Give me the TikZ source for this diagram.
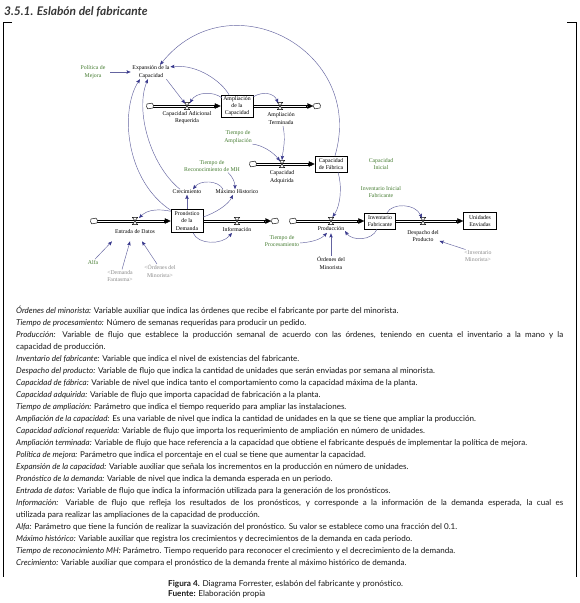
\documentclass[tikz,border=0pt]{standalone}
\usepackage{fontspec}
\setmainfont{Lato}
\newfontfamily\dfam{Liberation Serif}
\usetikzlibrary{arrows.meta}
\definecolor{cline}{RGB}{100,100,160}
\definecolor{ctip}{RGB}{55,55,140}
\definecolor{pgreen}{RGB}{70,125,50}
\definecolor{shgray}{RGB}{140,140,140}
\definecolor{txtc}{RGB}{25,25,25}
\definecolor{titc}{RGB}{55,55,55}
\newcommand{\dsize}{\dfam\fontsize{5.8}{7.4}\selectfont}
\newcommand{\bsize}{\fontsize{8.05}{9}\selectfont}
\tikzset{
  lbl/.style={font=\dsize, align=center, inner sep=0.6pt, text=black},
  parm/.style={lbl, text=pgreen},
  shd/.style={lbl, text=shgray},
  stock/.style={lbl, draw, line width=0.5pt, fill=white, inner sep=0.5pt},
  cloudn/.style={circle, minimum size=7pt, inner sep=0pt},
  conn/.style={draw=cline, line width=0.45pt, -{Stealth[length=4.2pt,width=3.4pt,inset=0.8pt,color=ctip]}},
  pipeedge/.style={draw=black, line width=0.6pt},
  pipetip/.style={draw=black, line width=0.4pt, -{Triangle[length=6pt,width=5.5pt]}},
  bodyl/.style={anchor=base west, inner sep=0pt, font=\bsize, text=txtc},
  frame/.style={draw=black, line width=0.7pt},
  cloudp/.pic={\draw[line width=0.45pt, fill=white] (-3.4,0.8) .. controls (-4.6,-1.4) and (-2.2,-3.4) .. (-0.6,-2.4) .. controls (0.6,-3.6) and (3.6,-3.0) .. (3.4,-0.8) .. controls (4.6,1.2) and (2.2,3.4) .. (0.4,2.4) .. controls (-0.8,3.6) and (-3.8,3.0) .. (-3.4,0.8) -- cycle;},
  valvep/.pic={\draw[line width=0.45pt, fill=white] (-2.6,-3.6) -- (2.6,-3.6) -- (-2.6,3.6) -- (2.6,3.6) -- cycle;}
}
\begin{document}
\begin{tikzpicture}[x=1pt,y=-1pt]
\useasboundingbox (0,0) rectangle (579,603);
\fill[white] (0,0) rectangle (579,603);

% title and frame
\node[anchor=base west, inner sep=0, font=\fontsize{11.9}{13}\selectfont\bfseries\itshape, text=titc] (title) at (4,15) {3.5.1. Eslabón del fabricante};
\draw[frame] (12,22) -- (3,22) -- (3,577);
\draw[frame] (567,22) -- (576,22) -- (576,577);

% ---------- diagram nodes ----------
\node[parm] (polit) at (93,72) {Política de\\Mejora};
\node[lbl] (expan) at (151,72) {Expansión de la\\Capacidad};
\node[stock, minimum width=32pt, minimum height=22pt] (ampcap) at (237,106) {Ampliación\\de la\\Capacidad};
\node[cloudn] (c1) at (150,106) {};
\node[cloudn] (c2) at (317,106) {};
\coordinate (v1) at (187,106);
\coordinate (v2) at (280,106);
\node[lbl] (carl) at (187,117.5) {Capacidad Adicional\\Requerida};
\node[lbl] (amtl) at (281,118.5) {Ampliación\\Terminada};
\node[parm] (tamp) at (238,137) {Tiempo de\\Ampliación};
\node[cloudn] (c3) at (253,164) {};
\coordinate (v3) at (282,164);
\node[lbl] (capadl) at (282,177) {Capacidad\\Adquirida};
\node[stock, minimum width=32pt, minimum height=16pt] (capfab) at (331,164) {Capacidad\\de Fábrica};
\node[parm] (capini) at (381,164) {Capacidad\\Inicial};
\node[parm] (invini) at (381,192) {Inventario Inicial\\Fabricante};
\node[parm] (trmh) at (212,166) {Tiempo de\\Reconocimiento de MH};
\node[lbl] (crec) at (187,192) {Crecimiento};
\node[lbl] (maxh) at (237,192) {Máximo Historico};
\node[stock, minimum width=32pt, minimum height=23pt] (prono) at (187,221) {Pronóstico\\de la\\Demanda};
\node[cloudn] (c4) at (94,221) {};
\coordinate (v4) at (135,221);
\node[lbl] (entl) at (135,232) {Entrada de Datos};
\coordinate (v5) at (237,221);
\node[lbl] (infol) at (237,229) {Información};
\node[cloudn] (c5) at (275,221) {};
\node[cloudn] (c6) at (293,221) {};
\coordinate (v6) at (331,221);
\node[lbl] (prodl) at (331,229) {Producción};
\node[stock, minimum width=31pt, minimum height=16pt] (inv) at (380,221) {Inventario\\Fabricante};
\coordinate (v7) at (423,221);
\node[lbl] (despl) at (423,236) {Despacho del\\Producto};
\node[stock, minimum width=33pt, minimum height=17pt] (unid) at (480,221) {Unidades\\Enviadas};
\node[parm] (tproc) at (282,241) {Tiempo de\\Procesamiento};
\node[lbl] (ordm) at (331,263) {Órdenes del\\Minorista};
\node[shd] (invmin) at (478,256) {<Inventario\\Minorista>};
\node[parm] (alfa) at (93,262) {Alfa};
\node[shd] (demf) at (120,276) {<Demanda\\Fantasma>};
\node[shd] (ordmin) at (160,271) {<Órdenes del\\Minorista>};

% ---------- pipes (two parallel edges + arrow tip) ----------
\draw[pipeedge] ([yshift=1.1pt]c1.center) -- ([yshift=1.1pt,xshift=-5pt]ampcap.west)
                ([yshift=-1.1pt]c1.center) -- ([yshift=-1.1pt,xshift=-5pt]ampcap.west);
\draw[pipetip] ([xshift=-7pt]ampcap.west) -- (ampcap.west);
\draw[pipeedge] ([yshift=1.1pt]ampcap.east) -- ([yshift=1.1pt,xshift=-5pt]c2.west)
                ([yshift=-1.1pt]ampcap.east) -- ([yshift=-1.1pt,xshift=-5pt]c2.west);
\draw[pipetip] ([xshift=-7pt]c2.west) -- (c2.west);
\draw[pipeedge] ([yshift=1.1pt]c3.center) -- ([yshift=1.1pt,xshift=-5pt]capfab.west)
                ([yshift=-1.1pt]c3.center) -- ([yshift=-1.1pt,xshift=-5pt]capfab.west);
\draw[pipetip] ([xshift=-7pt]capfab.west) -- (capfab.west);
\draw[pipeedge] ([yshift=1.1pt]c4.center) -- ([yshift=1.1pt,xshift=-5pt]prono.west)
                ([yshift=-1.1pt]c4.center) -- ([yshift=-1.1pt,xshift=-5pt]prono.west);
\draw[pipetip] ([xshift=-7pt]prono.west) -- (prono.west);
\draw[pipeedge] ([yshift=1.1pt]prono.east) -- ([yshift=1.1pt,xshift=-5pt]c5.west)
                ([yshift=-1.1pt]prono.east) -- ([yshift=-1.1pt,xshift=-5pt]c5.west);
\draw[pipetip] ([xshift=-7pt]c5.west) -- (c5.west);
\draw[pipeedge] ([yshift=1.1pt]c6.center) -- ([yshift=1.1pt,xshift=-5pt]inv.west)
                ([yshift=-1.1pt]c6.center) -- ([yshift=-1.1pt,xshift=-5pt]inv.west);
\draw[pipetip] ([xshift=-7pt]inv.west) -- (inv.west);
\draw[pipeedge] ([yshift=1.1pt]inv.east) -- ([yshift=1.1pt,xshift=-5pt]unid.west)
                ([yshift=-1.1pt]inv.east) -- ([yshift=-1.1pt,xshift=-5pt]unid.west);
\draw[pipetip] ([xshift=-7pt]unid.west) -- (unid.west);
\foreach \cc in {c1,c2,c3,c4,c5,c6} \pic at (\cc) {cloudp};
\foreach \vv in {v1,v2,v3,v4,v5,v6,v7} \pic at (\vv) {valvep};

% ---------- connectors ----------
\draw[conn, shorten <=4pt, shorten >=1pt] (polit) -- (expan);
\draw[conn] ([xshift=4pt]capfab.north) .. controls (366,50.5) and (230,-22) .. ([xshift=9pt]expan.north);
\draw[conn] ([xshift=-8pt]ampcap.north) .. controls (222,82) and (198,64) .. ([yshift=-2pt]expan.north east);
\draw[conn, shorten >=3pt] ([xshift=-4pt]expan.south east) -- (v1);
\draw[conn] ([xshift=1pt,yshift=-3pt]ampcap.north west) .. controls (213,91) and (196,92) .. ([xshift=3pt,yshift=3pt]v1);
\draw[conn] ([yshift=-2pt]ampcap.north east) .. controls (263,91) and (274,93) .. ([xshift=-2pt,yshift=3pt]v2);
\draw[conn] ([xshift=2pt,yshift=-1pt]amtl.south) .. controls (286,140) and (283,150) .. ([yshift=4pt]v3);
\draw[conn] (tamp.south east) .. controls (262,145) and (273,152) .. ([xshift=-2pt,yshift=3pt]v3);
\draw[conn] ([xshift=7pt]capfab.south) .. controls (342,185) and (341,205) .. ([xshift=1.5pt,yshift=4pt]v6);
\draw[conn] ([xshift=7pt]inv.north) .. controls (392,203) and (415,203) .. ([xshift=-1pt,yshift=3pt]v7);
\draw[conn] ([xshift=-3pt]inv.south) .. controls (372,241) and (352,241) .. ([yshift=-2pt]prodl.east);
\draw[conn] ([yshift=-2pt]tproc.east) .. controls (315,242) and (322,238) .. ([xshift=-4pt,yshift=-1pt]prodl.south);
\draw[conn, shorten >=1.5pt] (ordm.north) -- (prodl.south);
\draw[conn] ([xshift=2pt]invmin.north west) -- ([yshift=-5pt]despl.east);
\draw[conn] ([xshift=16pt]trmh.south) .. controls (232,176) and (235,182) .. ([xshift=-2pt]maxh.north);
\draw[conn] ([xshift=-14pt]maxh.north) .. controls (218,180) and (200,180) .. ([xshift=6pt]crec.north);
\draw[conn] (prono.north) -- (crec.south);
\draw[conn] ([yshift=4pt]prono.east) .. controls (215,213) and (228,205) .. ([xshift=-4pt]maxh.south);
\draw[conn] ([yshift=-2pt]prono.north west) .. controls (160,209) and (148,209) .. ([xshift=4pt,yshift=3pt]v4);
\draw[conn] ([xshift=6pt]prono.south) .. controls (198,245) and (222,245) .. ([xshift=-5pt,yshift=-1pt]infol.south);
\draw[conn] ([yshift=-1pt]prono.north west) .. controls (125,180) and (120,110) .. ([xshift=-11pt]expan.south);
\draw[conn] ([xshift=-7pt]crec.north) .. controls (150,165) and (135,110) .. ([xshift=-3pt]expan.south);
\draw[conn] ([xshift=2pt]alfa.north) -- ([xshift=-23pt,yshift=-6.5pt]entl.south);
\draw[conn] ([xshift=2pt]demf.north) -- ([xshift=-5pt,yshift=-6.5pt]entl.south);
\draw[conn] ([xshift=-3pt]ordmin.north) -- ([xshift=7pt,yshift=-6.5pt]entl.south);

% ---------- body text ----------
\node[bodyl] (t0) at (16,313.5) {\textit{Órdenes del minorista:} Variable auxiliar que indica las órdenes que recibe el fabricante por parte del minorista.};
\node[bodyl] (t1) at (16,325.5) {\textit{Tiempo de procesamiento:} Número de semanas requeridas para producir un pedido.};
\node[bodyl] (t2) at (16,337.5) {\makebox[547pt][s]{\textit{Producción:} Variable de flujo que establece la producción semanal de acuerdo con las órdenes, teniendo en cuenta el inventario a la mano y la}};
\node[bodyl] (t3) at (16,349.5) {capacidad de producción.};
\node[bodyl] (t4) at (16,361.5) {\textit{Inventario del fabricante:} Variable que indica el nivel de existencias del fabricante.};
\node[bodyl] (t5) at (16,373.5) {\textit{Despacho del producto:} Variable de flujo que indica la cantidad de unidades que serán enviadas por semana al minorista.};
\node[bodyl] (t6) at (16,385.5) {\textit{Capacidad de fábrica:} Variable de nivel que indica tanto el comportamiento como la capacidad máxima de la planta.};
\node[bodyl] (t7) at (16,397.5) {\textit{Capacidad adquirida:} Variable de flujo que importa capacidad de fabricación a la planta.};
\node[bodyl] (t8) at (16,409.5) {\textit{Tiempo de ampliación:} Parámetro que indica el tiempo requerido para ampliar las instalaciones.};
\node[bodyl] (t9) at (16,421.5) {\textit{Ampliación de la capacidad:} Es una variable de nivel que indica la cantidad de unidades en la que se tiene que ampliar la producción.};
\node[bodyl] (t10) at (16,433.5) {\textit{Capacidad adicional requerida:} Variable de flujo que importa los requerimiento de ampliación en número de unidades.};
\node[bodyl] (t11) at (16,445.5) {\textit{Ampliación terminada:} Variable de flujo que hace referencia a la capacidad que obtiene el fabricante después de implementar la política de mejora.};
\node[bodyl] (t12) at (16,457.5) {\textit{Política de mejora:} Parámetro que indica el porcentaje en el cual se tiene que aumentar la capacidad.};
\node[bodyl] (t13) at (16,469.5) {\textit{Expansión de la capacidad:} Variable auxiliar que señala los incrementos en la producción en número de unidades.};
\node[bodyl] (t14) at (16,481.5) {\textit{Pronóstico de la demanda:} Variable de nivel que indica la demanda esperada en un periodo.};
\node[bodyl] (t15) at (16,493.5) {\textit{Entrada de datos:} Variable de flujo que indica la información utilizada para la generación de los pronósticos.};
\node[bodyl] (t16) at (16,505.5) {\makebox[547pt][s]{\textit{Información:} Variable de flujo que refleja los resultados de los pronósticos, y corresponde a la información de la demanda esperada, la cual es}};
\node[bodyl] (t17) at (16,517.5) {utilizada para realizar las ampliaciones de la capacidad de producción.};
\node[bodyl] (t18) at (16,529.5) {\textit{Alfa:} Parámetro que tiene la función de realizar la suavización del pronóstico. Su valor se establece como una fracción del 0.1.};
\node[bodyl] (t19) at (16,541.5) {\textit{Máximo histórico:} Variable auxiliar que registra los crecimientos y decrecimientos de la demanda en cada periodo.};
\node[bodyl] (t20) at (16,553.5) {\textit{Tiempo de reconocimiento MH:} Parámetro. Tiempo requerido para reconocer el crecimiento y el decrecimiento de la demanda.};
\node[bodyl] (t21) at (16,565.5) {\textit{Crecimiento:} Variable auxiliar que compara el pronóstico de la demanda frente al máximo histórico de demanda.};

% ---------- caption ----------
\node[bodyl, font=\fontsize{8.2}{9}\selectfont] (cap1) at (168,586.5) {\textbf{Figura 4.} Diagrama Forrester, eslabón del fabricante y pronóstico.};
\node[bodyl, font=\fontsize{8.2}{9}\selectfont] (cap2) at (168,596.5) {\textbf{Fuente:} Elaboración propia};
\end{tikzpicture}
\end{document}
